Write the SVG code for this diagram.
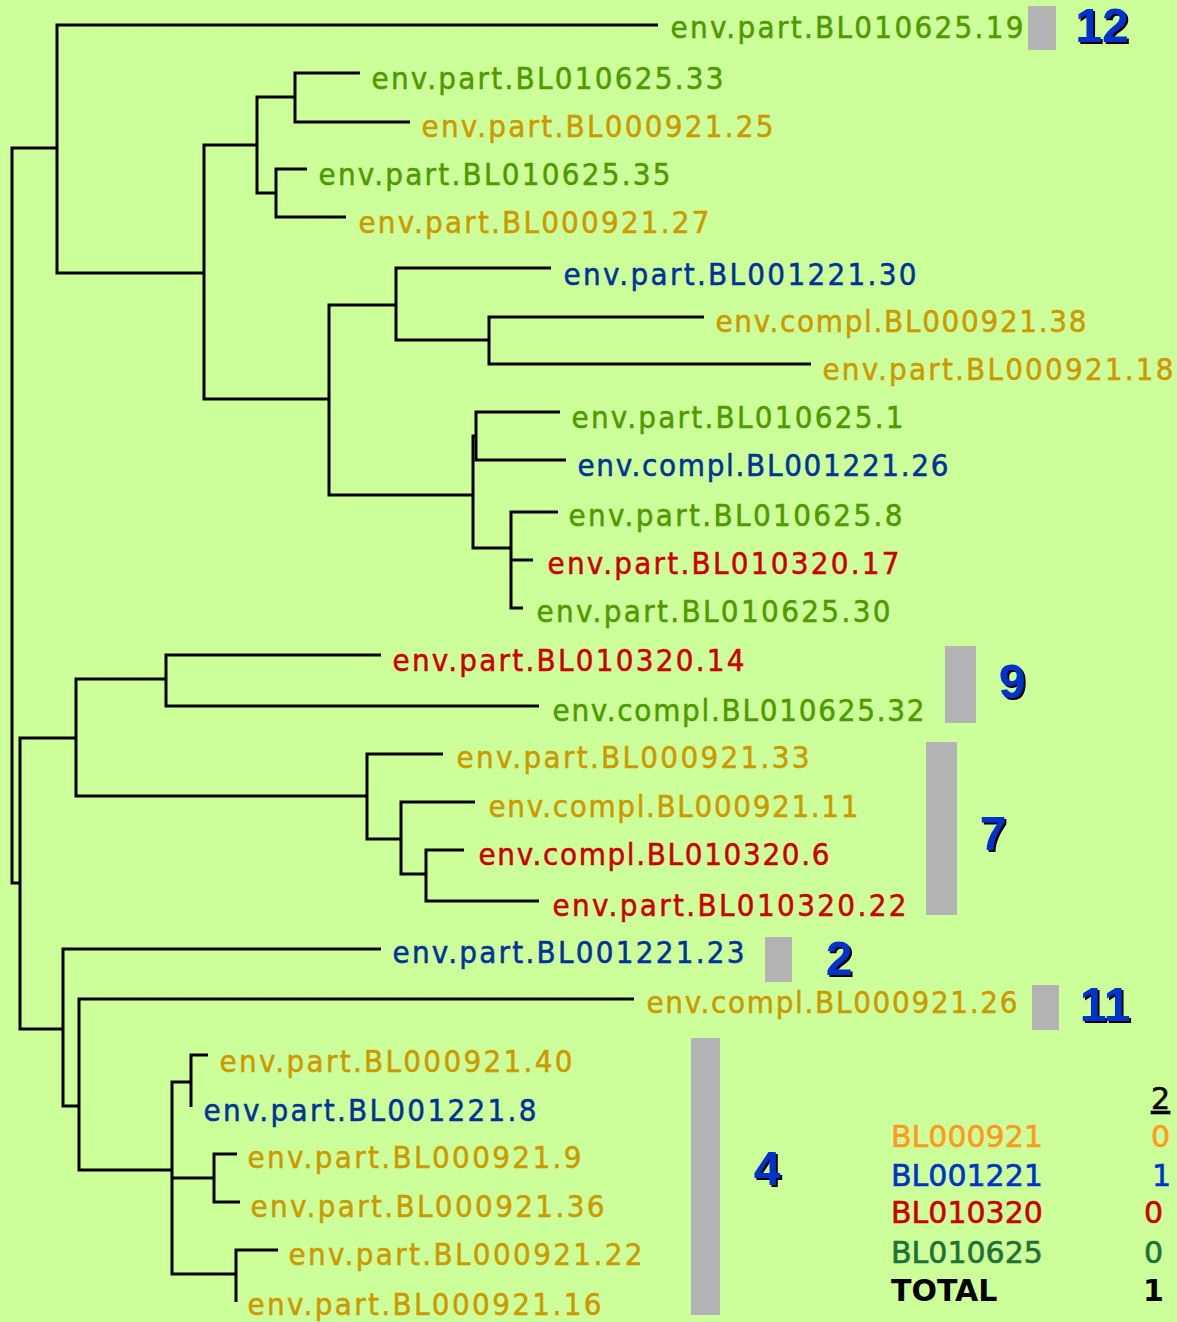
<svg xmlns="http://www.w3.org/2000/svg" width="1177" height="1322" viewBox="0 0 1177 1322">
<defs>
<style>
.lbl{font-family:"DejaVu Sans Condensed","DejaVu Sans","Verdana",sans-serif;font-stretch:condensed;font-size:31px;stroke-width:0.5px}
.g{fill:#4f9a00;stroke:#4f9a00}.o{fill:#cc9900;stroke:#cc9900}.b{fill:#003399;stroke:#003399}.r{fill:#cc0000;stroke:#cc0000}
.edge{fill:none;stroke:#000;stroke-width:3;stroke-linejoin:miter}
.bar{fill:#b3b3b3}
.num{font-family:"Liberation Sans","Arial",sans-serif;font-size:48px;font-weight:bold;fill:#0033cc;text-anchor:middle;filter:url(#sh)}
.leg{font-family:"DejaVu Sans","Verdana",sans-serif;font-size:30px;stroke-width:0.6px}
</style>
<filter id="sh" x="-20%" y="-20%" width="150%" height="150%">
<feDropShadow dx="2" dy="2" stdDeviation="0" flood-color="#000" flood-opacity="1"/>
</filter>
</defs>
<rect width="1177" height="1322" fill="#ccff99"/>
<g id="connectors" class="edge">
<path d="M57,148 H12 V883 H20"/>
<path d="M658,25 H57 V273 H204"/>
<path d="M257,145 H204 V399 H329"/>
<path d="M295,97 H257 V193 H276"/>
<path d="M360,73 H295 V122 H410"/>
<path d="M307,169 H276 V217 H346"/>
<path d="M396,305 H329 V495 H473"/>
<path d="M551,268 H396 V340 H489"/>
<path d="M704,317 H489 V364 H811"/>
<path d="M476,436 H473 V548 H511"/>
<path d="M560,412 H476 V460 H566"/>
<path d="M558,512 H511 V608 H523 M511,560 H533"/>
<path d="M76,738 H20 V1029 H63"/>
<path d="M166,679 H76 V796 H367"/>
<path d="M381,655 H166 V706 H539"/>
<path d="M443,754 H367 V839 H401"/>
<path d="M475,802 H401 V874 H426"/>
<path d="M464,850 H426 V901 H539"/>
<path d="M381,949 H63 V1106 H79"/>
<path d="M634,999 H79 V1170 H172"/>
<path d="M191,1082 H172 V1274 H236 M172,1178 H214"/>
<path d="M208,1055 H191 V1107"/>
<path d="M237,1154 H214 V1202 H240"/>
<path d="M278,1250 H236 V1302"/>
</g>
<g id="leaf-BL010625-19"><text class="lbl g" x="670.5" y="38" textLength="353" lengthAdjust="spacing">env.part.BL010625.19</text></g>
<g id="leaf-BL010625-33"><text class="lbl g" x="371.5" y="89" textLength="352" lengthAdjust="spacing">env.part.BL010625.33</text></g>
<g id="leaf-BL000921-25"><text class="lbl o" x="421.5" y="137" textLength="352" lengthAdjust="spacing">env.part.BL000921.25</text></g>
<g id="leaf-BL010625-35"><text class="lbl g" x="318.5" y="185" textLength="352" lengthAdjust="spacing">env.part.BL010625.35</text></g>
<g id="leaf-BL000921-27"><text class="lbl o" x="358.5" y="233" textLength="351" lengthAdjust="spacing">env.part.BL000921.27</text></g>
<g id="leaf-BL001221-30"><text class="lbl b" x="563.5" y="285" textLength="353" lengthAdjust="spacing">env.part.BL001221.30</text></g>
<g id="leaf-BL000921-38"><text class="lbl o" x="715.5" y="332" textLength="371" lengthAdjust="spacing">env.compl.BL000921.38</text></g>
<g id="leaf-BL000921-18"><text class="lbl o" x="822.5" y="380" textLength="351" lengthAdjust="spacing">env.part.BL000921.18</text></g>
<g id="leaf-BL010625-1"><text class="lbl g" x="571.5" y="428" textLength="332" lengthAdjust="spacing">env.part.BL010625.1</text></g>
<g id="leaf-BL001221-26"><text class="lbl b" x="577.5" y="476" textLength="371" lengthAdjust="spacing">env.compl.BL001221.26</text></g>
<g id="leaf-BL010625-8"><text class="lbl g" x="568.5" y="526" textLength="334" lengthAdjust="spacing">env.part.BL010625.8</text></g>
<g id="leaf-BL010320-17"><text class="lbl r" x="547.5" y="574" textLength="352" lengthAdjust="spacing">env.part.BL010320.17</text></g>
<g id="leaf-BL010625-30"><text class="lbl g" x="536.5" y="622" textLength="354" lengthAdjust="spacing">env.part.BL010625.30</text></g>
<g id="leaf-BL010320-14"><text class="lbl r" x="392.5" y="671" textLength="352" lengthAdjust="spacing">env.part.BL010320.14</text></g>
<g id="leaf-BL010625-32"><text class="lbl g" x="552.5" y="721" textLength="372" lengthAdjust="spacing">env.compl.BL010625.32</text></g>
<g id="leaf-BL000921-33"><text class="lbl o" x="456.5" y="768" textLength="353" lengthAdjust="spacing">env.part.BL000921.33</text></g>
<g id="leaf-BL000921-11"><text class="lbl o" x="488.5" y="817" textLength="370" lengthAdjust="spacing">env.compl.BL000921.11</text></g>
<g id="leaf-BL010320-6"><text class="lbl r" x="478.5" y="865" textLength="351" lengthAdjust="spacing">env.compl.BL010320.6</text></g>
<g id="leaf-BL010320-22"><text class="lbl r" x="552.5" y="916" textLength="354" lengthAdjust="spacing">env.part.BL010320.22</text></g>
<g id="leaf-BL001221-23"><text class="lbl b" x="392.5" y="963" textLength="352" lengthAdjust="spacing">env.part.BL001221.23</text></g>
<g id="leaf-BL000921-26"><text class="lbl o" x="646.5" y="1013" textLength="371" lengthAdjust="spacing">env.compl.BL000921.26</text></g>
<g id="leaf-BL000921-40"><text class="lbl o" x="219.5" y="1072" textLength="353" lengthAdjust="spacing">env.part.BL000921.40</text></g>
<g id="leaf-BL001221-8"><text class="lbl b" x="203.5" y="1121" textLength="333" lengthAdjust="spacing">env.part.BL001221.8</text></g>
<g id="leaf-BL000921-9"><text class="lbl o" x="247.5" y="1168" textLength="334" lengthAdjust="spacing">env.part.BL000921.9</text></g>
<g id="leaf-BL000921-36"><text class="lbl o" x="250.5" y="1217" textLength="354" lengthAdjust="spacing">env.part.BL000921.36</text></g>
<g id="leaf-BL000921-22"><text class="lbl o" x="288.5" y="1265" textLength="354" lengthAdjust="spacing">env.part.BL000921.22</text></g>
<g id="leaf-BL000921-16"><text class="lbl o" x="247.5" y="1315" textLength="354" lengthAdjust="spacing">env.part.BL000921.16</text></g>
<g id="cluster-12"><rect class="bar" x="1028" y="6" width="28" height="44"/><text class="num" x="1102" y="42">12</text></g>
<g id="cluster-9"><rect class="bar" x="945" y="646" width="31" height="77"/><text class="num" x="1012" y="698">9</text></g>
<g id="cluster-7"><rect class="bar" x="926" y="742" width="31" height="173"/><text class="num" x="993" y="850">7</text></g>
<g id="cluster-2"><rect class="bar" x="765" y="937" width="27" height="45"/><text class="num" x="839" y="975">2</text></g>
<g id="cluster-11"><rect class="bar" x="1032" y="985" width="27" height="45"/><text class="num" x="1105" y="1021">11</text></g>
<g id="cluster-4"><rect class="bar" x="691" y="1038" width="29" height="277"/><text class="num" x="767" y="1185">4</text></g>
<g id="legend" class="leg">
<text x="1151" y="1109" text-decoration="underline" fill="#000" stroke="#000">2</text>
<text x="891" y="1147" fill="#ff9922" stroke="#ff9922">BL000921</text><text x="1151" y="1147" fill="#ff9922" stroke="#ff9922">0</text>
<text x="891" y="1186" fill="#0033cc" stroke="#0033cc">BL001221</text><text x="1152" y="1186" fill="#0033cc" stroke="#0033cc">1</text>
<text x="891" y="1223" fill="#cc0000" stroke="#cc0000">BL010320</text><text x="1144" y="1223" fill="#cc0000" stroke="#cc0000">0</text>
<text x="891" y="1263" fill="#217035" stroke="#217035">BL010625</text><text x="1144" y="1263" fill="#217035" stroke="#217035">0</text>
<text x="891" y="1301" fill="#000" font-weight="bold">TOTAL</text><text x="1143" y="1301" fill="#000" font-weight="bold">1</text>
</g>
</svg>
